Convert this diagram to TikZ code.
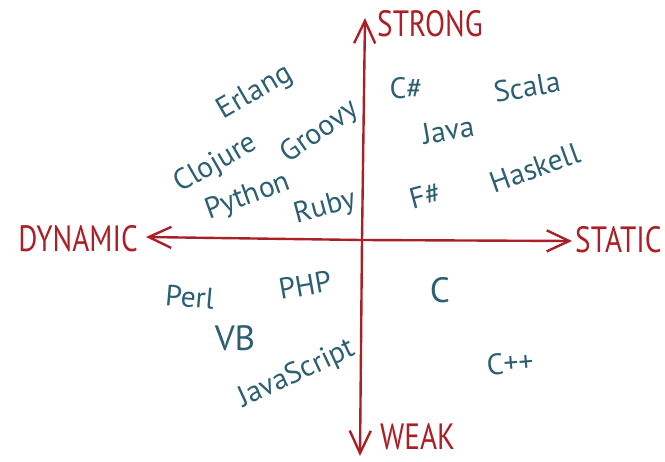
\documentclass[tikz,border=0pt]{standalone}
\usepackage{fontspec}
\setmainfont{PT Sans}
\usetikzlibrary{arrows.meta}
\definecolor{axisred}{RGB}{170,32,38}
\definecolor{langteal}{RGB}{45,95,115}

\begin{document}
\begin{tikzpicture}[x=0.025cm, y=-0.025cm,
    axis/.style={axisred, line width=1.7pt, line cap=round, -{Straight Barb[length=16pt, width=15pt, line width=1.7pt]}},
    axislabel/.style={axisred, inner sep=0pt, xscale=0.8, font=\fontsize{26}{28}\selectfont},
    lang/.style={langteal, inner sep=0pt, font=\fontsize{21}{23}\selectfont}]
    \useasboundingbox (0,0) rectangle (665,461);
    % 1. axis end points
    \coordinate (origin) at (362,240);
    \coordinate (top) at (365,18);
    \coordinate (bottom) at (360,456);
    \coordinate (left) at (146,237);
    \coordinate (right) at (572,241);

    % 2. axes
    \draw[axis] (origin) -- (top);
    \draw[axis] (origin) -- (bottom);
    \draw[axis] (origin) -- (left);
    \draw[axis] (origin) -- (right);

    % 3. axis labels
    \node[axislabel, anchor=west] (strong) at (377,24) {STRONG};
    \node[axislabel, anchor=west] (weak) at (380,437) {WEAK};
    \node[axislabel, anchor=east] (dynamic) at (138,239) {DYNAMIC};
    \node[axislabel, anchor=west] (static) at (575,240) {STATIC};

    % 4. strong, dynamic
    \node[lang, rotate=30] (erlang) at (255,93) {Erlang};
    \node[lang, rotate=30] (clojure) at (216,164) {Clojure};
    \node[lang, rotate=35] (groovy) at (320,132) {Groovy};
    \node[lang, rotate=20] (python) at (248,197) {Python};
    \node[lang, rotate=15] (ruby) at (325,208) {Ruby};

    % 5. strong, static
    \node[lang] (csharp) at (406,88) {C\#};
    \node[lang, rotate=10] (scala) at (527,87) {Scala};
    \node[lang, rotate=10] (java) at (448,130) {Java};
    \node[lang, rotate=20] (haskell) at (535,168) {Haskell};
    \node[lang, rotate=15] (fsharp) at (425,195) {F\#};

    % 6. weak, dynamic
    \node[lang, rotate=-5] (perl) at (190,297) {Perl};
    \node[lang, rotate=10] (php) at (305,285) {PHP};
    \node[lang, font=\fontsize{25}{27}\selectfont] (vb) at (235,338) {VB};
    \node[lang, rotate=25] (javascript) at (297,374) {JavaScript};

    % 7. weak, static
    \node[lang, font=\fontsize{25}{27}\selectfont] (c) at (440,290) {C};
    \node[lang, rotate=5] (cpp) at (510,363) {C++};
\end{tikzpicture}
\end{document}
